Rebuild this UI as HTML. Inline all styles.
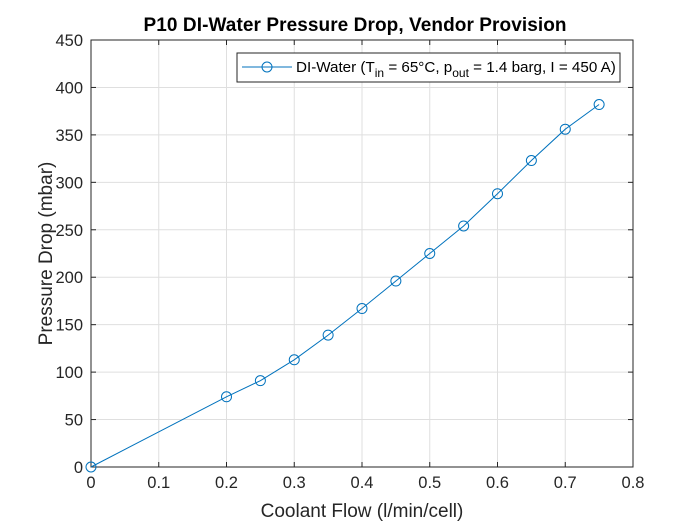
<!DOCTYPE html>
<html><head><meta charset="utf-8"><style>
body{margin:0;background:#fff;}
svg text{font-family:"Liberation Sans",Arial,sans-serif;}
</style></head><body>
<svg id="chart" width="700" height="525" viewBox="0 0 700 525" xmlns="http://www.w3.org/2000/svg">
<rect width="700" height="525" fill="#fff"/>
<g id="grid"></g>
<rect x="91" y="40" width="542" height="427" fill="none" stroke="#262626" stroke-width="1"/>
<g id="ticks"></g>
<g id="series"></g>
<text x="355" y="31" text-anchor="middle" font-size="19" font-weight="bold" fill="#000" textLength="423">P10 DI-Water Pressure Drop, Vendor Provision</text>
<text x="362" y="517" text-anchor="middle" font-size="19" fill="#262626">Coolant Flow (l/min/cell)</text>
<text transform="translate(52,253.5) rotate(-90)" text-anchor="middle" font-size="19" fill="#262626">Pressure Drop (mbar)</text>
<g>
<rect x="237" y="53" width="383" height="29" fill="#fff" stroke="#262626" stroke-width="1"/>
<line x1="242" y1="67" x2="292" y2="67" stroke="#0072BD" stroke-width="1"/>
<circle cx="267" cy="67" r="5" fill="none" stroke="#0072BD" stroke-width="1"/>
<text x="296" y="72" font-size="15.2" fill="#000">DI-Water (T<tspan font-size="12" dy="5">in</tspan><tspan dy="-5"> = 65°C, p</tspan><tspan font-size="12" dy="5">out</tspan><tspan dy="-5"> = 1.4 barg, I = 450 A)</tspan></text>
</g>
</svg>
<script>
const flows=[0,0.2,0.25,0.3,0.35,0.4,0.45,0.5,0.55,0.6,0.65,0.7,0.75];
const dps=[0,74,91,113,139,167,196,225,254,288,323,356,382];
const xTicks=[0,0.1,0.2,0.3,0.4,0.5,0.6,0.7,0.8];
const yTicks=[0,50,100,150,200,250,300,350,400,450];
const NS="http://www.w3.org/2000/svg";
const X0=91,X1=633,Y0=467,Y1=40;
const xs=v=>X0+(v-0)/(0.8-0)*(X1-X0);
const ys=v=>Y0-(v-0)/(450-0)*(Y0-Y1);
function mk(tag,attrs,parent){const e=document.createElementNS(NS,tag);for(const k in attrs)e.setAttribute(k,attrs[k]);parent.appendChild(e);return e;}
const grid=document.getElementById('grid'),ticks=document.getElementById('ticks'),ser=document.getElementById('series');
xTicks.forEach(t=>{const x=xs(t);
 const g=mk('line',{x1:x,x2:x,y1:Y1,y2:Y0,stroke:'#dfdfdf','stroke-width':1},grid);
 
 
 mk('line',{x1:x,x2:x,y1:Y0,y2:Y0-5,stroke:'#262626'},ticks);
 mk('line',{x1:x,x2:x,y1:Y1,y2:Y1+5,stroke:'#262626'},ticks);
 const l=mk('text',{x:x,y:Y0+21,'text-anchor':'middle','font-size':16.5,fill:'#262626'},ticks);
 l.textContent=String(t);
 
 
});
yTicks.forEach(t=>{const y=ys(t);
 const g=mk('line',{x1:X0,x2:X1,y1:y,y2:y,stroke:'#dfdfdf','stroke-width':1},grid);
 
 
 mk('line',{x1:X0,x2:X0+5,y1:y,y2:y,stroke:'#262626'},ticks);
 mk('line',{x1:X1,x2:X1-5,y1:y,y2:y,stroke:'#262626'},ticks);
 const l=mk('text',{x:X0-8,y:y+6,'text-anchor':'end','font-size':16.5,fill:'#262626'},ticks);
 l.textContent=String(t);
 
 
});
const pl=mk('polyline',{points:flows.map((f,i)=>xs(f)+','+ys(dps[i])).join(' '),fill:'none',stroke:'#0072BD','stroke-width':1},ser);


flows.forEach((f,i)=>{const c=mk('circle',{cx:xs(f),cy:ys(dps[i]),r:5,fill:'none',stroke:'#0072BD','stroke-width':1},ser);
 
 
});
</script>
</body></html>
